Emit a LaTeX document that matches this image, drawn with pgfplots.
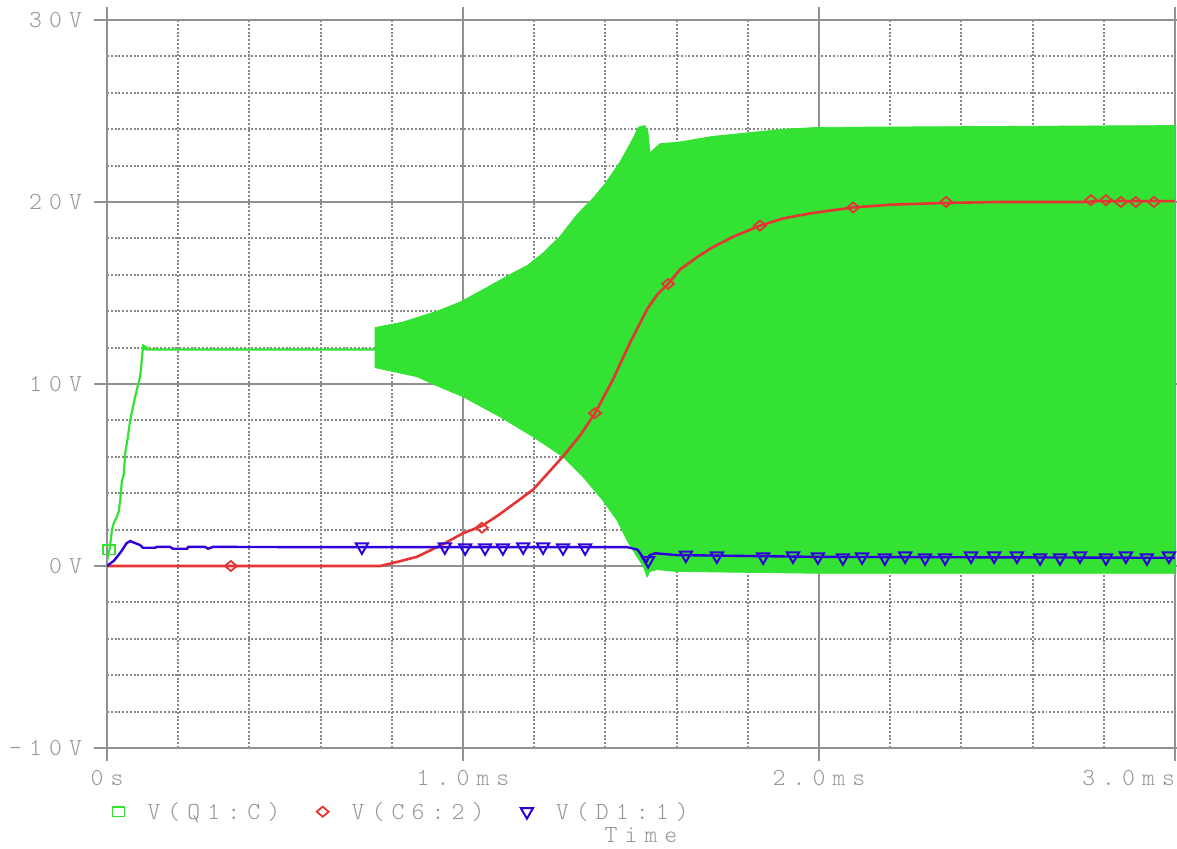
\documentclass[border=0pt]{standalone}
\usepackage{fontspec}
\usepackage{pgfplots}
\pgfplotsset{compat=1.18}
\newfontfamily\psfont{lmmonolt10-regular.otf}[LetterSpace=29]
\newcommand\psf{\psfont\fontsize{24.5bp}{28bp}\selectfont}
\definecolor{txtgray}{RGB}{150,150,150}
\definecolor{gridgray}{RGB}{145,145,145}
\definecolor{dotgray}{RGB}{135,135,135}
\definecolor{psgreen}{RGB}{51,226,51}
\definecolor{psred}{RGB}{228,52,52}
\definecolor{psblue}{RGB}{48,0,220}
\begin{document}
\begin{tikzpicture}
\begin{axis}[
  at={(107bp,101bp)}, anchor=south west,
  width=1068bp, height=728bp, scale only axis,
  xmin=0, xmax=3, ymin=-10, ymax=30,
  xtick={0,1,2,3}, ytick={-10,0,10,20,30},
  xticklabels={0s,1.0ms,2.0ms,\llap{3.0ms}},
  yticklabels={-10V,0V,10V,20V,30V},
  minor x tick num=4, minor y tick num=4,
  grid=both,
  major grid style={gridgray, line width=2bp, solid},
  minor grid style={dotgray, line width=1.9bp, dash pattern=on 1.9bp off 1.9bp},
  axis line style={gridgray, line width=2bp},
  tick style={gridgray, line width=2bp},
  tick align=outside,
  major tick length=12.5bp,
  minor tick length=0pt,
  ticklabel style={font=\psf, text=txtgray},
  xticklabel style={yshift=-6bp},
  yticklabel style={xshift=-9bp},
  xlabel={Time},
  xlabel style={font=\psf, text=txtgray, at={(axis description cs:0.5,0)}, anchor=base, yshift=-95bp},
  legend columns=3,
  legend image code/.code={\draw[#1] plot coordinates {(0bp,0bp)};},
  legend style={draw=none, fill=none, inner sep=0bp, font=\psf, text=txtgray,
    at={(axis description cs:0.005,-0.0875)}, anchor=west,
    nodes={inner sep=0bp},
    /tikz/every odd column/.append style={column sep=23bp},
    /tikz/every even column/.append style={column sep=36.5bp}},
]
% green oscillation envelope
\addplot[forget plot, draw=psgreen, fill=psgreen, line width=0.8bp] coordinates {
(0.753,13.1) (0.831,13.4) (0.927,14.0) (0.992,14.5) (1.067,15.3) (1.140,16.1)
(1.180,16.5) (1.225,17.2) (1.272,18.1) (1.320,19.3) (1.365,20.2) (1.399,21.0)
(1.441,22.2) (1.461,22.9) (1.478,23.5) (1.492,24.1) (1.511,24.2) (1.520,23.8)
(1.525,22.7) (1.553,23.2) (1.61,23.3) (1.70,23.6) (1.80,23.8) (1.90,24.0)
(2.0,24.1) (3.0,24.2)
(3.0,-0.4) (2.0,-0.4) (1.6,-0.3) (1.545,-0.2) (1.525,-0.3) (1.517,-0.6)
(1.506,0.0) (1.489,0.5) (1.461,1.4) (1.433,2.5) (1.393,3.6) (1.337,4.9)
(1.281,6.0) (1.197,7.1) (1.104,8.2) (1.0,9.3) (0.927,9.9) (0.871,10.4)
(0.753,10.9) (0.753,13.1)
};
% green start-up trace
\addplot[forget plot, psgreen, line width=2.2bp] coordinates {
(0,0.3) (0.008,1.0) (0.014,2.0) (0.020,2.4) (0.028,2.7) (0.033,3.0) (0.037,3.6)
(0.042,4.7) (0.047,5.0) (0.051,6.2) (0.058,7.0) (0.065,8.0) (0.079,9.3)
(0.093,10.4) (0.101,12.0) (0.11,11.9) (0.753,11.9)
};
\addplot[forget plot, only marks, mark=square, mark size=6bp,
  mark options={psgreen, line width=1.8bp, yscale=0.8}] coordinates {(0.005,0.9)};
\addplot[forget plot, only marks, mark=triangle*, mark size=4bp,
  mark options={psgreen, rotate=-90}] coordinates {(0.105,12.0)};
% red trace
\addplot[forget plot, psred, line width=2.6bp] coordinates {
(0,0) (0.767,0) (0.80,0.15) (0.87,0.5) (0.944,1.2) (1.0,1.8) (1.053,2.2)
(1.10,2.8) (1.197,4.2) (1.28,6.0) (1.33,7.2) (1.371,8.4) (1.42,10.2)
(1.47,12.3) (1.517,14.1) (1.545,14.9) (1.576,15.5) (1.61,16.3) (1.66,17.0)
(1.70,17.5) (1.76,18.1) (1.834,18.7) (1.90,19.1) (1.983,19.4) (2.096,19.7)
(2.2,19.85) (2.357,19.95) (2.5,20.0) (2.76,20.0) (2.77,20.05) (3.0,20.05)
};
\addplot[forget plot, only marks, mark=diamond, mark size=5bp,
  mark options={psred, line width=1.8bp, xscale=1.6}] coordinates {
(0.348,0) (1.053,2.1) (1.371,8.4) (1.576,15.5) (1.834,18.7) (2.096,19.7)
(2.357,20.0) (2.764,20.1) (2.806,20.1) (2.848,20.0) (2.890,20.0) (2.941,20.0)
};
% blue trace
\addplot[forget plot, psblue, line width=2.4bp] coordinates {
(0,0) (0.02,0.3) (0.04,0.8) (0.055,1.25) (0.065,1.37) (0.08,1.25) (0.093,1.15)
(0.101,1.0) (0.135,1.0) (0.14,1.05) (0.177,1.05) (0.185,0.95) (0.225,0.95)
(0.228,1.05) (0.275,1.05) (0.284,0.95) (0.298,1.05) (0.5,1.04) (1.46,1.04)
(1.49,0.9) (1.505,0.5) (1.515,0.2) (1.525,0.6) (1.54,0.7) (1.6,0.6)
(1.8,0.55) (2.0,0.5) (3.0,0.45)
};
\addplot[forget plot, only marks, mark=triangle, mark size=7bp,
  mark options={psblue, line width=2bp, rotate=180}] coordinates {
(0.716,1.05) (0.949,1.05) (1.006,1.0) (1.062,1.0) (1.112,1.0) (1.169,1.05)
(1.225,1.05) (1.281,1.0) (1.343,1.0) (1.52,0.3) (1.626,0.6) (1.713,0.55)
(1.843,0.5) (1.927,0.55) (1.997,0.5) (2.067,0.45) (2.121,0.5) (2.185,0.45)
(2.242,0.55) (2.298,0.45) (2.354,0.45) (2.427,0.55) (2.492,0.55) (2.556,0.55)
(2.621,0.45) (2.677,0.45) (2.733,0.55) (2.806,0.45) (2.862,0.55) (2.921,0.45)
(2.983,0.55)
};
% legend
\addlegendimage{mark=square, mark size=6bp, mark options={psgreen, line width=1.8bp, yscale=0.8}}
\addlegendentry{V(Q1:C)}
\addlegendimage{mark=diamond, mark size=5bp, mark options={psred, line width=1.8bp, xscale=1.6}}
\addlegendentry{V(C6:2)}
\addlegendimage{mark=triangle, mark size=7bp, mark options={psblue, line width=2bp, rotate=180}}
\addlegendentry{V(D1:1)}
\end{axis}
\pgfresetboundingbox
\path[use as bounding box] (0,0) rectangle (1177bp,849bp);
\end{tikzpicture}
\end{document}
